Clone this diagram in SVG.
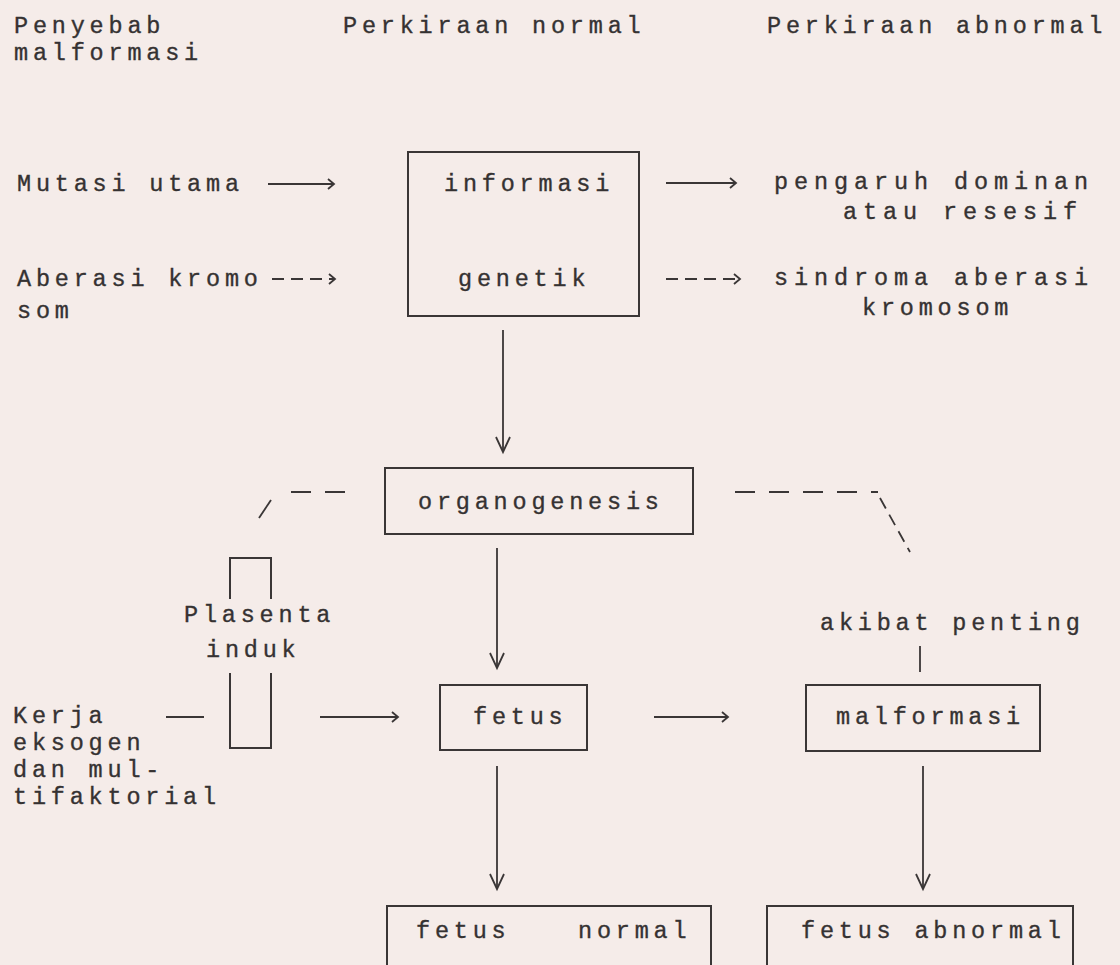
<svg xmlns="http://www.w3.org/2000/svg" width="1120" height="965" viewBox="0 0 1120 965">
  <defs>
    <style>
      .t { font-family: "Liberation Mono", "DejaVu Sans Mono", monospace; font-size: 23.5px; letter-spacing: 4.8px; fill: #353232; stroke: #353232; stroke-width: 0.35px; }
      .tr { letter-spacing: 5.9px; }
      .box { fill: none; stroke: #3a3636; stroke-width: 2; }
      .ln { fill: none; stroke: #3a3636; stroke-width: 1.8; }
      .dash { fill: none; stroke: #3a3636; stroke-width: 1.8; stroke-dasharray: 12 7; }
      .ldash { fill: none; stroke: #3a3636; stroke-width: 1.8; stroke-dasharray: 20 14; }
    </style>
    <marker id="vhead" markerUnits="userSpaceOnUse" markerWidth="20" markerHeight="20" viewBox="-16 -10 18 20" refX="0" refY="0" orient="auto">
      <path d="M-15,-7 L0,0 L-15,7" fill="none" stroke="#3a3636" stroke-width="1.8"/>
    </marker>
    <marker id="hhead" markerUnits="userSpaceOnUse" markerWidth="12" markerHeight="14" viewBox="-8 -7 10 14" refX="0" refY="0" orient="auto">
      <path d="M-6,-5 L0,0 L-6,5" fill="none" stroke="#3a3636" stroke-width="1.8"/>
    </marker>
  </defs>
  <rect width="1120" height="965" fill="#f5ece9"/>

  <g id="headers">
    <text class="t" x="14" y="33">Penyebab</text>
    <text class="t" x="14" y="60">malformasi</text>
    <text class="t" x="343" y="33">Perkiraan normal</text>
    <text class="t" x="767" y="33">Perkiraan abnormal</text>
  </g>

  <g id="mutasi"><text class="t" x="17" y="191">Mutasi utama</text></g>
  <g id="aberasi">
    <text class="t" x="17" y="286">Aberasi kromo</text>
    <text class="t" x="17" y="318">som</text>
  </g>

  <g id="informasi-genetik">
    <rect class="box" x="408" y="152" width="231" height="164"/>
    <text class="t" x="444" y="191">informasi</text>
    <text class="t" x="458" y="286">genetik</text>
  </g>

  <g id="pengaruh">
    <text class="t tr" x="774" y="189">pengaruh dominan</text>
    <text class="t tr" x="843" y="219">atau resesif</text>
  </g>
  <g id="sindroma">
    <text class="t tr" x="774" y="285">sindroma aberasi</text>
    <text class="t" x="862" y="315">kromosom</text>
  </g>

  <g id="organogenesis">
    <rect class="box" x="385" y="468" width="308" height="66"/>
    <text class="t" x="418" y="509">organogenesis</text>
  </g>

  <g id="plasenta">
    <path class="box" d="M230,599 V558 H271 V599"/>
    <path class="box" d="M230,673 V748 H271 V673"/>
    <text class="t" x="184" y="622">Plasenta</text>
    <text class="t" x="206" y="657">induk</text>
  </g>

  <g id="kerja">
    <text class="t" x="13" y="723">Kerja</text>
    <text class="t" x="13" y="750">eksogen</text>
    <text class="t" x="13" y="777">dan mul-</text>
    <text class="t" x="13" y="804">tifaktorial</text>
  </g>

  <g id="fetus">
    <rect class="box" x="440" y="685" width="147" height="65"/>
    <text class="t" x="473" y="724">fetus</text>
  </g>

  <g id="akibat"><text class="t" x="820" y="630">akibat penting</text></g>

  <g id="malformasi">
    <rect class="box" x="806" y="685" width="234" height="66"/>
    <text class="t" x="836" y="724">malformasi</text>
  </g>

  <g id="fetus-normal">
    <path class="box" d="M387,970 V906 H711 V970"/>
    <text class="t" x="416" y="938">fetus</text>
    <text class="t" x="578" y="938">normal</text>
  </g>

  <g id="fetus-abnormal">
    <path class="box" d="M767,970 V906 H1073 V970"/>
    <text class="t" x="801" y="938">fetus abnormal</text>
  </g>

  <g id="connectors">
    <line class="ln" x1="268" y1="184" x2="334" y2="184" marker-end="url(#hhead)"/>
    <line class="dash" x1="272" y1="279" x2="335" y2="279" marker-end="url(#hhead)"/>
    <line class="ln" x1="666" y1="183" x2="736" y2="183" marker-end="url(#hhead)"/>
    <line class="dash" x1="666" y1="279" x2="740" y2="279" marker-end="url(#hhead)"/>
    <line class="ln" x1="503" y1="330" x2="503" y2="452" marker-end="url(#vhead)"/>
    <line class="ln" x1="497" y1="548" x2="497" y2="668" marker-end="url(#vhead)"/>
    <path class="ldash" d="M345,492 H290"/>
    <line class="ln" x1="271" y1="500" x2="259" y2="518"/>
    <path class="ldash" d="M735,492 H878"/>
    <path class="dash" d="M880,498 L910,552"/>
    <line class="ln" x1="920" y1="646" x2="920" y2="672"/>
    <line class="ln" x1="166" y1="717" x2="204" y2="717"/>
    <line class="ln" x1="320" y1="717" x2="398" y2="717" marker-end="url(#hhead)"/>
    <line class="ln" x1="654" y1="717" x2="728" y2="717" marker-end="url(#hhead)"/>
    <line class="ln" x1="497" y1="766" x2="497" y2="889" marker-end="url(#vhead)"/>
    <line class="ln" x1="923" y1="766" x2="923" y2="889" marker-end="url(#vhead)"/>
  </g>
</svg>
